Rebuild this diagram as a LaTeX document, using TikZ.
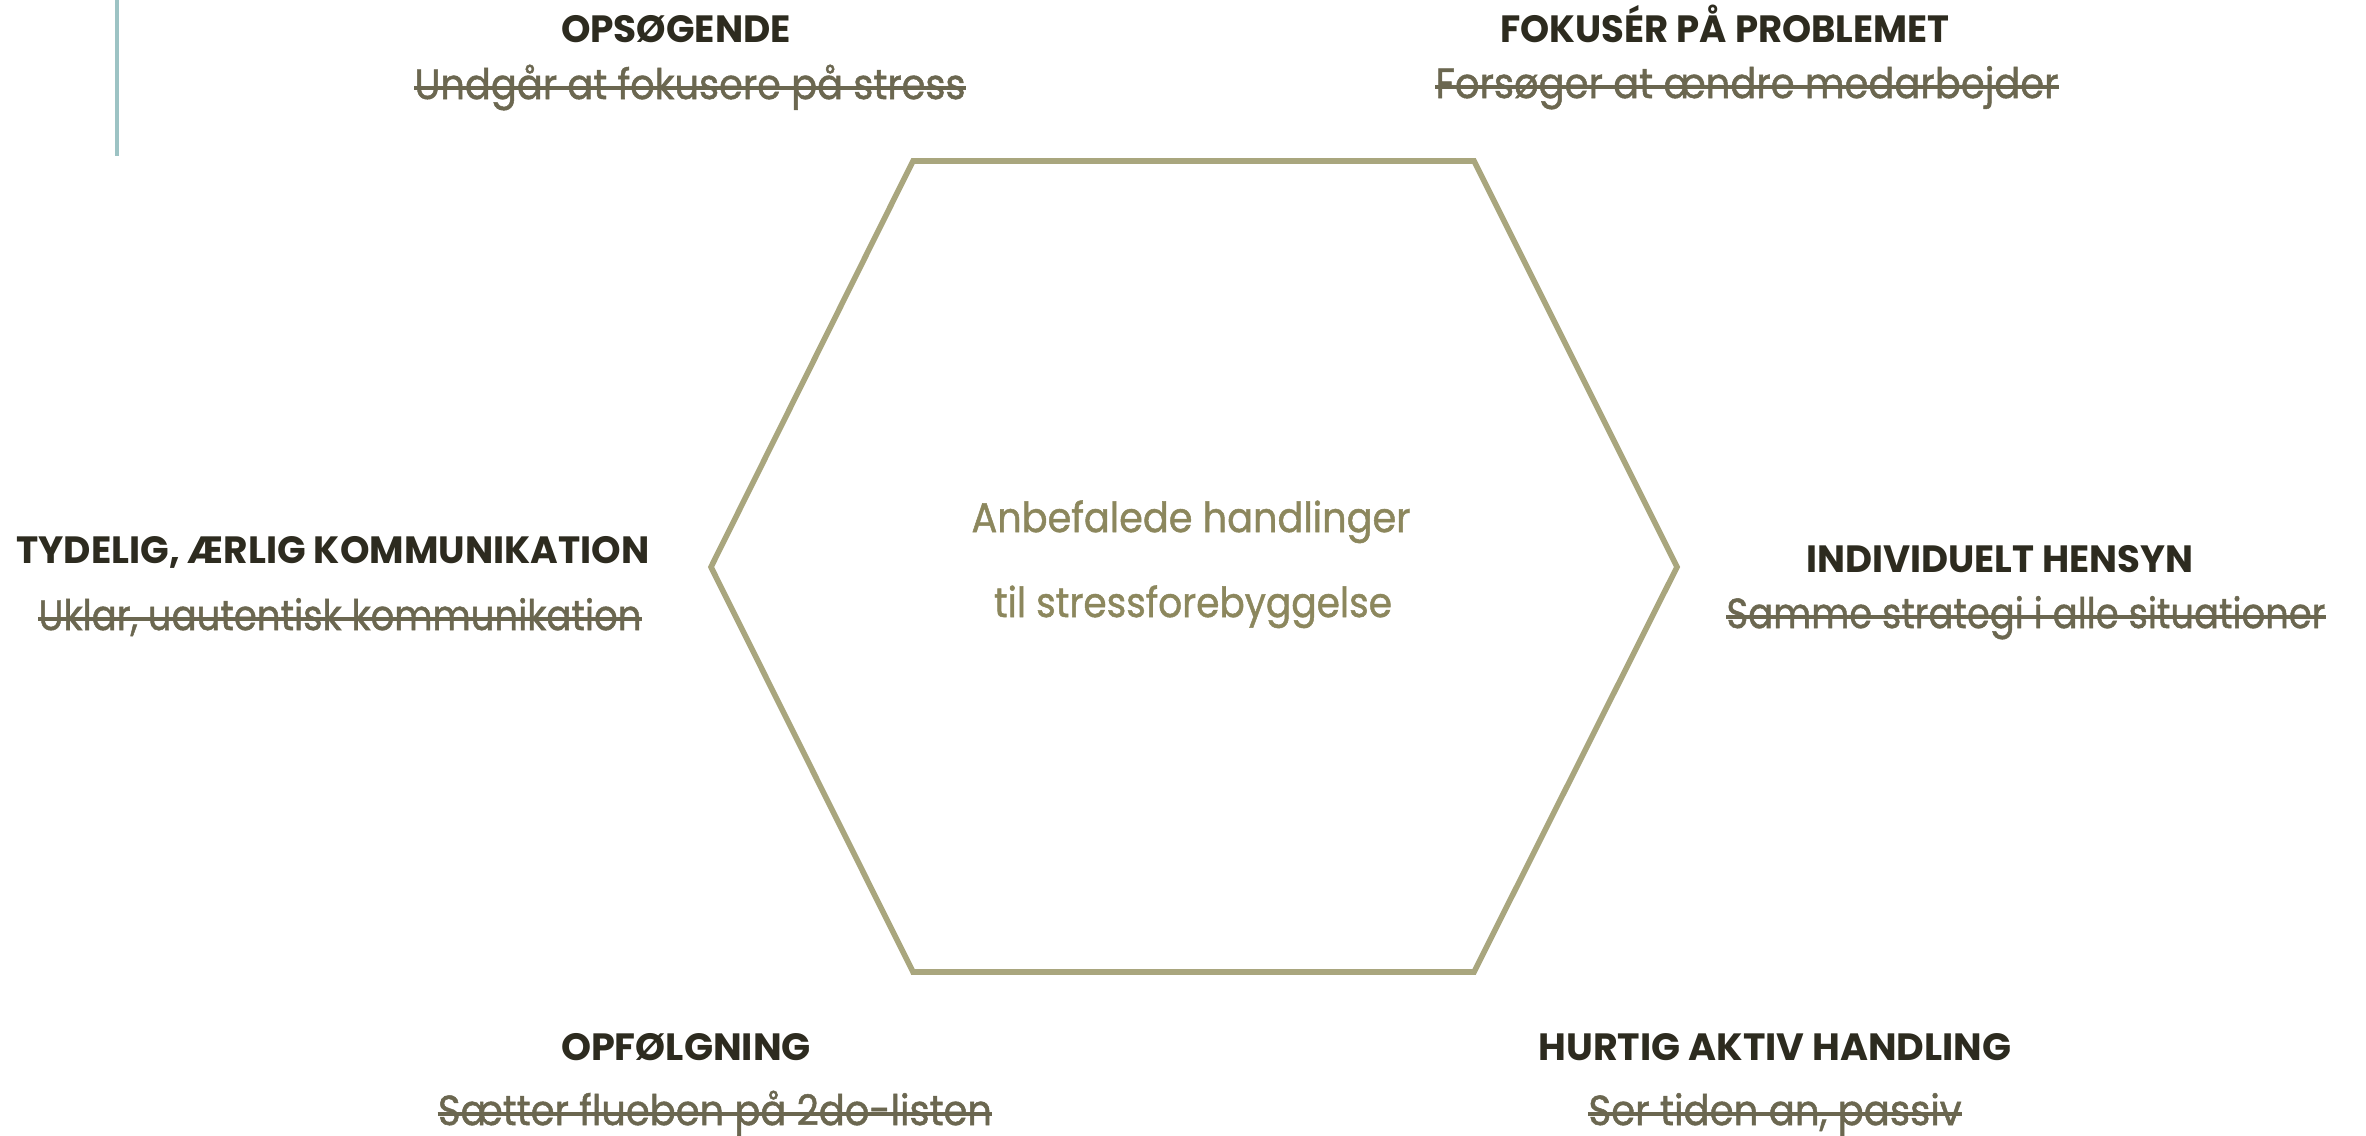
\documentclass[tikz,border=0pt]{standalone}
\usepackage{fontspec}
\usepackage{graphicx}
\setmainfont{Poppins}
\newfontfamily\subfont{Poppins}[BoldFont={Poppins}, BoldFeatures={FakeBold=1.2}]
\definecolor{headcol}{HTML}{2D2B1F}
\definecolor{strikecol}{HTML}{6B6750}
\definecolor{centercol}{HTML}{8C875D}
\definecolor{hexcol}{HTML}{A9A67E}
\definecolor{barcol}{HTML}{9DC3C4}
\newlength\fitlen
\newcommand\fitto[2]{\settowidth\fitlen{#2}\pgfmathsetmacro\fitratio{#1/\fitlen}\scalebox{\fitratio}[1]{#2}}
\tikzset{
  headtxt/.style={anchor=base, inner sep=0pt, text=headcol, font=\fontsize{28.5}{30}\selectfont\bfseries},
  subtxt/.style={anchor=base, inner sep=0pt, text=strikecol, font=\subfont\bfseries\fontsize{31.5}{34}\selectfont},
  centertxt/.style={anchor=base, inner sep=0pt, text=centercol, font=\subfont\bfseries\fontsize{31}{33}\selectfont},
  strikeline/.style={draw=strikecol, line width=2.4pt},
  hexline/.style={draw=hexcol, line width=4.2pt, line join=miter},
}
\begin{document}
\begin{tikzpicture}[x=0.75pt,y=-0.75pt]
\useasboundingbox (0,0) rectangle (2366,1135);
% left bar
\coordinate (bartop) at (117,0);
\coordinate (barbot) at (117,156);
\draw[draw=barcol, line width=3.2pt] (bartop) -- (barbot);
% hexagon
\coordinate (ha) at (913,161);
\coordinate (hb) at (1474,161);
\coordinate (hc) at (1677,567);
\coordinate (hd) at (1474,972);
\coordinate (he) at (913,972);
\coordinate (hf) at (711,567);
\draw[hexline] (ha) -- (hb) -- (hc) -- (hd) -- (he) -- (hf) -- cycle;
% centre text
\node[centertxt] (c1) at (1191,532) {\fitto{329.25pt}{Anbefalede handlinger}};
\node[centertxt] (c2) at (1193,617) {\fitto{298.5pt}{til stressforebyggelse}};
% headings
\node[headtxt] (h1) at (676,42) {\fitto{172.5pt}{OPSØGENDE}};
\node[headtxt] (h2) at (1725,42) {\fitto{336.75pt}{FOKUSÉR PÅ PROBLEMET}};
\node[headtxt] (h3) at (333,563) {\fitto{474.75pt}{TYDELIG, ÆRLIG KOMMUNIKATION}};
\node[headtxt] (h4) at (2000,572) {\fitto{290.25pt}{INDIVIDUELT HENSYN}};
\node[headtxt] (h5) at (686,1060) {\fitto{187.5pt}{OPFØLGNING}};
\node[headtxt] (h6) at (1775,1060) {\fitto{354.75pt}{HURTIG AKTIV HANDLING}};
% struck-through texts
\node[subtxt] (s1) at (690,99) {\fitto{413.25pt}{Undgår at fokusere på stress}};
\node[subtxt] (s2) at (1747,98) {\fitto{467.25pt}{Forsøger at ændre medarbejder}};
\node[subtxt] (s3) at (340,630) {\fitto{452.25pt}{Uklar, uautentisk kommunikation}};
\node[subtxt] (s4) at (2026,628) {\fitto{449.25pt}{Samme strategi i alle situationer}};
\node[subtxt] (s5) at (715,1125) {\fitto{415.5pt}{Sætter flueben på 2do-listen}};
\node[subtxt] (s6) at (1775,1125) {\fitto{279.75pt}{Ser tiden an, passiv}};
\foreach \s in {s1,s2,s3,s4,s5,s6}{
  \draw[strikeline] ([yshift=8.25pt]\s.base west) -- ([yshift=8.25pt]\s.base east);
}
\end{tikzpicture}
\end{document}
